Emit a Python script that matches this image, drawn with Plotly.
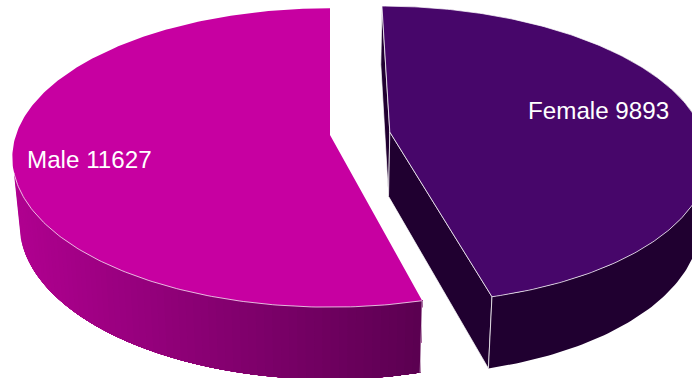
import numpy as np
import plotly.graph_objects as go

# Headcount by gender
categories = ["Male", "Female"]
counts = [11627, 9893]
top_colors = ["#C700A1", "#47066A"]
wall_colors_female = "#200030"
wall_gradient_male = [(176, 0, 144), (90, 0, 80)]
edge_color = "rgba(255,255,255,0.72)"

# Projection of the tilted disc onto the 692x378 canvas
VIEW_X, VIEW_Y = 330.0, 135.0
RADIUS_X, RADIUS_Y = 314.0, 146.0
TILT = 0.152
DEPTH, DEPTH_SCALE = 64.4, 0.978
EXPLODE = {"Male": (0.0, 0.0), "Female": (60.0, 0.02)}


def project(theta, r, offset, lower=False):
    """Map polar disc coordinates to canvas pixels, on the upper or lower face."""
    wx = offset[0] + RADIUS_X * r * np.sin(theta)
    wv = offset[1] + r * np.cos(theta)
    w = 1 + TILT * wv
    s = DEPTH_SCALE if lower else 1.0
    d = DEPTH if lower else 0.0
    return VIEW_X + s * wx / w, VIEW_Y + (d - s * RADIUS_Y * wv) / w


def polygon(fig, xs, ys, fill, line_color=None, line_width=0.0):
    fig.add_trace(go.Scatter(
        x=np.asarray(xs), y=np.asarray(ys), mode="lines", fill="toself",
        fillcolor=fill,
        line=dict(color=line_color or fill, width=line_width),
        hoverinfo="skip", showlegend=False,
    ))


def edge(fig, xs, ys):
    fig.add_trace(go.Scatter(
        x=np.asarray(xs), y=np.asarray(ys), mode="lines",
        line=dict(color=edge_color, width=1),
        hoverinfo="skip", showlegend=False,
    ))


def quad(theta_a, r_a, theta_b, r_b, offset):
    xa, ya = project(theta_a, r_a, offset)
    xb, yb = project(theta_b, r_b, offset)
    xc, yc = project(theta_b, r_b, offset, True)
    xd, yd = project(theta_a, r_a, offset, True)
    return [xa, xb, xc, xd, xa], [ya, yb, yc, yd, ya]


total = sum(counts)
sweeps = [2 * np.pi * c / total for c in counts]
fig = go.Figure()

# Male slice runs anticlockwise from twelve o'clock. Its outer wall is painted
# as nested bands, each reaching to the far end, so no seams show between them.
male_offset = EXPLODE["Male"]
male_start = -sweeps[0]
wall_from = -np.pi / 2 - 0.25
c0, c1 = wall_gradient_male
for a in np.linspace(wall_from, male_start, 70)[:-1]:
    band = np.linspace(a, male_start, 60)
    tx, ty = project(band, 1, male_offset)
    bx, by = project(band, 1, male_offset, True)
    t = np.clip((tx[0] - 13) / (421 - 13), 0, 1)
    rgb = [round(c0[i] + (c1[i] - c0[i]) * t) for i in range(3)]
    polygon(fig, np.r_[tx, bx[::-1]], np.r_[ty, by[::-1]],
            f"rgb({rgb[0]},{rgb[1]},{rgb[2]})")

xe, ye = project(male_start, 1, male_offset)
xf, yf = project(male_start, 1, male_offset, True)
edge(fig, [xe, xf], [ye, yf])

arc = np.linspace(male_start, 0, 240)
ax, ay = project(arc, 1, male_offset)
ox, oy = project(0.0, 0, male_offset)
polygon(fig, np.r_[ox, ax, ox], np.r_[oy, ay, oy], top_colors[0])
rim = np.linspace(male_start, wall_from, 120)
edge(fig, *project(rim, 1, male_offset))

# Female slice runs clockwise from twelve o'clock, pulled out to the right
female_offset = EXPLODE["Female"]
female_end = sweeps[1]
xs, ys = quad(0.0, 0, 0.0, 1, female_offset)
polygon(fig, xs, ys, wall_colors_female, edge_color, 1)
xs, ys = quad(0.0, 0, female_end, 1, female_offset)
polygon(fig, xs, ys, wall_colors_female, edge_color, 1)
arc = np.linspace(0.9, female_end, 120)
tx, ty = project(arc, 1, female_offset)
bx, by = project(arc, 1, female_offset, True)
polygon(fig, np.r_[tx, bx[::-1]], np.r_[ty, by[::-1]], wall_colors_female)
edge(fig, [tx[-1], bx[-1]], [ty[-1], by[-1]])

arc = np.linspace(0, female_end, 240)
ax, ay = project(arc, 1, female_offset)
ox, oy = project(0.0, 0, female_offset)
polygon(fig, np.r_[ox, ax, ox], np.r_[oy, ay, oy], top_colors[1],
        edge_color, 1)

# Slice labels
label_positions = {"Male": (89, 159), "Female": (598.5, 110.5)}
for name, count in zip(categories, counts):
    lx, ly = label_positions[name]
    fig.add_annotation(x=lx, y=ly, text=f"{name} {count}", showarrow=False,
                       font=dict(family="Liberation Sans, Arial, sans-serif",
                                 size=24.2, color="white"))

fig.update_layout(
    width=692, height=378, margin=dict(l=0, r=0, t=0, b=0),
    paper_bgcolor="white", plot_bgcolor="white", showlegend=False,
    xaxis=dict(range=[0, 692], visible=False, fixedrange=True),
    yaxis=dict(range=[378, 0], visible=False, fixedrange=True),
)
fig.write_html("out.html", config={"displayModeBar": False})
